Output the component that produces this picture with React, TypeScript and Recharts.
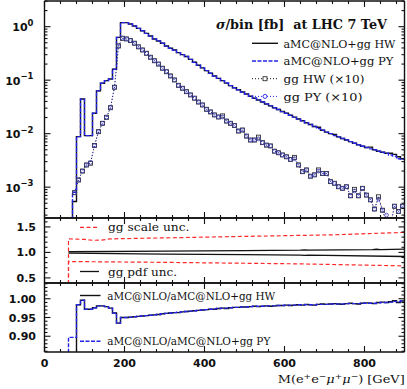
import React from 'react';
import { LineChart, Line, XAxis, YAxis } from 'recharts';

// ---------------- data ----------------
const binLow = [70, 80, 90, 100, 110, 120, 130, 140, 150, 160, 170, 180, 190, 200, 210, 220, 230, 240, 250, 260, 270, 280, 290, 300, 310, 320, 330, 340, 350, 360, 370, 380, 390, 400, 410, 420, 430, 440, 450, 460, 470, 480, 490, 500, 510, 520, 530, 540, 550, 560, 570, 580, 590, 600, 610, 620, 630, 640, 650, 660, 670, 680, 690, 700, 710, 720, 730, 740, 750, 760, 770, 780, 790, 800, 810, 820, 830, 840, 850, 860, 870, 880, 890];
const binMid = [75, 85, 95, 105, 115, 125, 135, 145, 155, 165, 175, 185, 195, 205, 215, 225, 235, 245, 255, 265, 275, 285, 295, 305, 315, 325, 335, 345, 355, 365, 375, 385, 395, 405, 415, 425, 435, 445, 455, 465, 475, 485, 495, 505, 515, 525, 535, 545, 555, 565, 575, 585, 595, 605, 615, 625, 635, 645, 655, 665, 675, 685, 695, 705, 715, 725, 735, 745, 755, 765, 775, 785, 795, 805, 815, 825, 835, 845, 855, 865, 875, 885, 895];

// aMC@NLO+gg HW  (sigma/bin [fb])
const hwMain = [0.00054, 0.0088, 0.0445, 0.0092, 0.0092, 0.024, 0.063, 0.0875, 0.098, 0.105, 0.16, 0.63, 1.19, 1.19, 1.12, 1.03, 0.93, 0.84, 0.75, 0.67, 0.59, 0.54, 0.49, 0.435, 0.395, 0.367, 0.327, 0.30, 0.277, 0.245, 0.216, 0.19, 0.17, 0.151, 0.135, 0.12, 0.108, 0.098, 0.088, 0.079, 0.072, 0.066, 0.060, 0.055, 0.050, 0.046, 0.0427, 0.039, 0.0359, 0.0331, 0.0305, 0.0282, 0.026, 0.024, 0.0221, 0.0204, 0.0188, 0.0174, 0.016, 0.0148, 0.0136, 0.0132, 0.0116, 0.0107, 0.0100, 0.0097, 0.0087, 0.0081, 0.0076, 0.0071, 0.0066, 0.0062, 0.0058, 0.0055, 0.0056, 0.0050, 0.0047, 0.0045, 0.0043, 0.0043, 0.0041, 0.0037, 0.0034];
// aMC@NLO+gg PY
const pyMain = [0.0008, 0.0088, 0.0445, 0.0092, 0.0092, 0.024, 0.063, 0.0875, 0.098, 0.105, 0.16, 0.63, 1.19, 1.19, 1.12, 1.03, 0.93, 0.84, 0.75, 0.67, 0.59, 0.54, 0.49, 0.435, 0.395, 0.367, 0.327, 0.30, 0.277, 0.245, 0.216, 0.19, 0.17, 0.151, 0.135, 0.12, 0.108, 0.098, 0.0885, 0.079, 0.072, 0.066, 0.060, 0.055, 0.050, 0.046, 0.0427, 0.039, 0.0359, 0.0331, 0.0305, 0.0282, 0.0258, 0.024, 0.0221, 0.0204, 0.0188, 0.0174, 0.016, 0.0148, 0.0136, 0.0125, 0.0116, 0.0107, 0.0100, 0.0092, 0.0087, 0.0081, 0.0076, 0.0071, 0.0066, 0.0062, 0.0058, 0.0055, 0.0052, 0.0050, 0.0047, 0.0045, 0.0043, 0.0040, 0.0038, 0.0034, 0.0033];
// gg HW (x10)
const ggHW10 = [0.00079, 0.00136, 0.0020, 0.0026, 0.0028, 0.0060, 0.0109, 0.0156, 0.0202, 0.0306, 0.0736, 0.436, 0.607, 0.59, 0.55, 0.49, 0.42, 0.367, 0.318, 0.268, 0.231, 0.200, 0.167, 0.144, 0.120, 0.101, 0.080, 0.0705, 0.061, 0.053, 0.046, 0.039, 0.0344, 0.0285, 0.0255, 0.0224, 0.0205, 0.0215, 0.0172, 0.0156, 0.0142, 0.0112, 0.0117, 0.0090, 0.0076, 0.0076, 0.0086, 0.0068, 0.0061, 0.0059, 0.0047, 0.0044, 0.0040, 0.0037, 0.0033, 0.0036, 0.0026, 0.00195, 0.0021, 0.0016, 0.0017, 0.0021, 0.0018, 0.0018, 0.00127, 0.00118, 0.00102, 0.00095, 0.00102, 0.00069, 0.00091, 0.00069, 0.00095, 0.00071, 0.00058, 0.00039, 0.00066, 0.00037, 0.0002, 0.0002, 0.00044, 0.00035, 0.00044];
// gg PY (x10)
const ggPY10 = [0.00079, 0.00136, 0.0020, 0.0026, 0.0029, 0.0060, 0.0109, 0.0156, 0.0202, 0.0306, 0.0736, 0.436, 0.607, 0.59, 0.55, 0.49, 0.42, 0.367, 0.318, 0.268, 0.231, 0.200, 0.167, 0.144, 0.120, 0.101, 0.080, 0.0705, 0.061, 0.053, 0.046, 0.039, 0.0344, 0.0285, 0.0255, 0.0224, 0.0205, 0.0205, 0.0172, 0.0156, 0.0142, 0.0112, 0.0117, 0.0090, 0.0076, 0.0076, 0.0080, 0.0068, 0.0061, 0.0059, 0.0047, 0.0044, 0.0040, 0.0037, 0.0033, 0.0034, 0.0026, 0.00195, 0.0021, 0.0016, 0.0017, 0.0020, 0.0018, 0.0018, 0.00127, 0.00118, 0.00102, 0.00095, 0.00102, 0.00069, 0.00085, 0.00069, 0.00095, 0.00071, 0.00058, 0.00039, 0.0006, 0.00037, 0.0003, 0.0002, 0.00044, 0.00035, 0.00044];

// gg scale / pdf uncertainty bands (ratio)
const scaleUpX = [60, 100, 120, 140, 165, 300, 470, 720, 900];
const scaleUpV = [1.266, 1.255, 1.238, 1.24, 1.266, 1.285, 1.31, 1.345, 1.393];
const scaleDnX = [60, 300, 640, 900];
const scaleDnV = [0.821, 0.805, 0.775, 0.736];
const pdfUpX = [60, 300, 500, 640, 650, 660, 820, 830, 840, 900];
const pdfUpV = [1.013, 1.025, 1.037, 1.045, 1.05, 1.045, 1.055, 1.062, 1.055, 1.063];
const pdfDnX = [60, 300, 500, 640, 650, 660, 900];
const pdfDnV = [0.985, 0.968, 0.955, 0.945, 0.94, 0.945, 0.92];

// aMC@NLO / aMC@NLO+gg
const ratioBinsHW = [80, 90, 100, 110, 120, 130, 140, 150, 160, 170, 180, 190, 200, 210, 220, 230, 240, 250, 260, 270, 280, 290, 300, 310, 320, 330, 340, 350, 360, 370, 380, 390, 400, 410, 420, 430, 440, 450, 460, 470, 480, 490, 500, 510, 520, 530, 540, 550, 560, 570, 580, 590, 600, 610, 620, 630, 640, 650, 660, 670, 680, 690, 700, 710, 720, 730, 740, 750, 760, 770, 780, 790, 800, 810, 820, 830, 840, 850, 860, 870, 880, 890];
const ratioHW = [0.984, 0.996, 0.972, 0.972, 0.976, 0.981, 0.981, 0.979, 0.975, 0.962, 0.935, 0.950,
  0.950, 0.951, 0.952, 0.953, 0.954, 0.955, 0.956, 0.957, 0.958, 0.960,
  0.961, 0.962, 0.963, 0.963, 0.965, 0.966, 0.967, 0.968, 0.969, 0.970,
  0.971, 0.972, 0.972, 0.974, 0.975, 0.974, 0.976, 0.977, 0.977, 0.978,
  0.978, 0.979, 0.980, 0.979, 0.980, 0.981, 0.980, 0.981, 0.982, 0.982,
  0.983, 0.982, 0.983, 0.984, 0.983, 0.985, 0.984, 0.983, 0.985, 0.986,
  0.985, 0.986, 0.987, 0.986, 0.985, 0.987, 0.988, 0.987, 0.986, 0.988,
  0.989, 0.988, 0.987, 0.990, 0.991, 0.990, 0.992, 0.995, 0.990, 0.994];
const ratioBinsPY = [60, 70, 80, 90, 100, 110, 120, 130, 140, 150, 160, 170, 180, 190, 200, 210, 220, 230, 240, 250, 260, 270, 280, 290, 300, 310, 320, 330, 340, 350, 360, 370, 380, 390, 400, 410, 420, 430, 440, 450, 460, 470, 480, 490, 500, 510, 520, 530, 540, 550, 560, 570, 580, 590, 600, 610, 620, 630, 640, 650, 660, 670, 680, 690, 700, 710, 720, 730, 740, 750, 760, 770, 780, 790, 800, 810, 820, 830, 840, 850, 860, 870, 880, 890];
const ratioPY = [0.897, 0.897, 0.984, 0.996, 0.972, 0.972, 0.976, 0.981, 0.981, 0.979, 0.975, 0.962, 0.935, 0.950,
  0.950, 0.951, 0.952, 0.953, 0.954, 0.955, 0.956, 0.957, 0.958, 0.960,
  0.961, 0.962, 0.963, 0.964, 0.965, 0.966, 0.967, 0.968, 0.969, 0.970,
  0.971, 0.972, 0.973, 0.974, 0.975, 0.975, 0.976, 0.977, 0.977, 0.978,
  0.978, 0.979, 0.980, 0.980, 0.980, 0.981, 0.981, 0.981, 0.982, 0.982,
  0.983, 0.983, 0.983, 0.984, 0.984, 0.984, 0.984, 0.984, 0.985, 0.985,
  0.985, 0.986, 0.986, 0.986, 0.986, 0.987, 0.987, 0.987, 0.987, 0.988,
  0.988, 0.988, 0.988, 0.989, 0.990, 0.990, 0.991, 0.993, 0.992, 0.994];

// ticks
const xTicks = [0, 40, 80, 120, 160, 200, 240, 280, 320, 360, 400, 440, 480, 520, 560, 600, 640, 680, 720, 760, 800, 840, 880];
const xMajor = [0, 200, 400, 600, 800];
const mainYTicks = [0.0003, 0.0004, 0.0005, 0.0006, 0.0007, 0.0008, 0.0009, 0.001, 0.002, 0.003, 0.004, 0.005, 0.006, 0.007, 0.008, 0.009, 0.01, 0.02, 0.03, 0.04, 0.05, 0.06, 0.07, 0.08, 0.09, 0.1, 0.2, 0.3, 0.4, 0.5, 0.6, 0.7, 0.8, 0.9, 1, 2, 3];
const mainYMajor = [0.001, 0.01, 0.1, 1];
const mainYExp = ['−3', '−2', '−1', '0'];
const midYTicks = [0.5, 0.6, 0.7, 0.8, 0.9, 1.0, 1.1, 1.2, 1.3, 1.4, 1.5, 1.6];
const midYMajor = [0.5, 1.0, 1.5];
const midYLabels = ['0.5', '1.0', '1.5'];
const lowYTicks = [0.86, 0.87, 0.88, 0.89, 0.90, 0.91, 0.92, 0.93, 0.94, 0.95, 0.96, 0.97, 0.98, 0.99, 1.00, 1.01, 1.02, 1.03, 1.04];
const lowYMajor = [0.90, 0.95, 1.00];
const lowYLabels = ['0.90', '0.95', '1.00'];

// ---------------- layout / style ----------------
const W = 407;
const H = 389;
const PL = 44.5;
const PR = 404.5;
const MAIN = { top: 1, bot: 218 };
const MID = { top: 218, bot: 283 };
const LOW = { top: 283, bot: 352 };
const AX = 1; // axis box thickness (needed so axes render)
const BLACK = '#111';
const BLUE = '#2424e6';
const RED = '#ff2a2a';
const SANS = "'DejaVu Sans', sans-serif";
const SERIF = "'DejaVu Serif', serif";

const idx = (arr: number[], v: number) => arr.findIndex((a) => Math.abs(a - v) / Math.abs(a || 1) < 1e-6);

const stepData = (edges: number[], vals: number[], start: number, floor: number, end: number) => {
  const d: { x: number; v: number }[] = [{ x: start, v: floor }];
  edges.forEach((e, i) => d.push({ x: e, v: vals[i] }));
  d.push({ x: end, v: vals[vals.length - 1] });
  return d;
};
const ptData = (xs: number[], vs: number[]) => xs.map((x, i) => ({ x, v: vs[i] }));

const hwMainData = stepData(binLow, hwMain, 60, 1e-6, 900);
const pyMainData = stepData(binLow, pyMain, 60, 1e-6, 900);
const ggHWData = ptData(binMid, ggHW10);
const ggPYData = ptData(binMid, ggPY10);
const scaleUpData = [{ x: 60, v: 0 }, ...ptData(scaleUpX, scaleUpV)];
const scaleDnData = [{ x: 60, v: 0 }, ...ptData(scaleDnX, scaleDnV)];
const pdfUpData = ptData(pdfUpX, pdfUpV);
const pdfDnData = ptData(pdfDnX, pdfDnV);
const ratioHWData = stepData(ratioBinsHW, ratioHW, 70, 0.5, 900);
const ratioPYData = stepData(ratioBinsPY, ratioPY, 50, 0.5, 900);

// ---------------- tick renderers ----------------
const makeXTick = (edgeY: number, dir: number, withLabel: boolean) => (p: any) => {
  const v = p.payload.value;
  const x = p.x;
  const major = xMajor.includes(v);
  const len = major ? 6 : 3;
  return (
    <g>
      <line x1={x} x2={x} y1={edgeY} y2={edgeY + dir * len} stroke={BLACK} strokeWidth={1.1} />
      {withLabel && major ? (
        <text x={x} y={367} textAnchor="middle" fontFamily={SANS} fontWeight="bold" fontSize={11} fill={BLACK}>
          {v}
        </text>
      ) : null}
    </g>
  );
};

const makeYTick = (side: 'left' | 'right', majors: number[], labels: string[] | null, kind: 'lin' | 'log') => (p: any) => {
  const v = p.payload.value;
  const y = p.y;
  const k = idx(majors, v);
  const major = k >= 0;
  const len = major ? 6 : 3;
  const x0 = side === 'left' ? PL : PR;
  const x1 = side === 'left' ? x0 + len : x0 - len;
  let label: React.ReactNode = null;
  if (labels && major) {
    if (kind === 'log') {
      label = (
        <text x={33.5} y={y + 4.5} textAnchor="end" fontFamily={SANS} fontWeight="bold" fontSize={11} fill={BLACK}>
          10
          <tspan dy={-5.5} fontSize={8.5}>{labels[k]}</tspan>
        </text>
      );
    } else {
      label = (
        <text x={36} y={y + 4} textAnchor="end" fontFamily={SANS} fontWeight="bold" fontSize={11} fill={BLACK}>
          {labels[k]}
        </text>
      );
    }
  }
  return (
    <g>
      <line x1={x0} x2={x1} y1={y} y2={y} stroke={BLACK} strokeWidth={1.1} />
      {label}
    </g>
  );
};

const frameLine = { stroke: BLACK, strokeWidth: 1.4 };

const Panel = ({ top, bot, yProps, yMajors, yLabels, kind, xLabels, children }: any) => (
  <div style={{ position: 'absolute', left: 0, top: 0 }}>
    <LineChart width={W} height={H}
      margin={{ top: top - AX, bottom: H - bot - AX, left: PL - AX, right: W - PR - AX }}>
      <XAxis xAxisId="b" type="number" dataKey="x" domain={[0, 900]} ticks={xTicks} interval={0} allowDataOverflow
        orientation="bottom" height={AX} tickLine={false} axisLine={frameLine} tick={makeXTick(bot, -1, xLabels)} />
      <XAxis xAxisId="t" type="number" dataKey="x" domain={[0, 900]} ticks={xTicks} interval={0} allowDataOverflow
        orientation="top" height={AX} tickLine={false} axisLine={frameLine} tick={makeXTick(top, 1, false)} />
      <YAxis yAxisId="l" type="number" orientation="left" width={AX} {...yProps} interval={0} allowDataOverflow
        tickLine={false} axisLine={frameLine} tick={makeYTick('left', yMajors, yLabels, kind)} />
      <YAxis yAxisId="r" type="number" orientation="right" width={AX} {...yProps} interval={0} allowDataOverflow
        tickLine={false} axisLine={frameLine} tick={makeYTick('right', yMajors, null, kind)} />
      {children}
    </LineChart>
  </div>
);

const Square = (p: any) => {
  if (p.cx == null || p.cy == null || isNaN(p.cy)) return <g key={p.index} />;
  return <rect key={p.index} x={p.cx - 2} y={p.cy - 2} width={4} height={4} fill="none" stroke="#333" strokeWidth={0.9} />;
};
const Circle = (p: any) => {
  if (p.cx == null || p.cy == null || isNaN(p.cy)) return <g key={p.index} />;
  return <circle key={p.index} cx={p.cx} cy={p.cy} r={1.9} fill="none" stroke="#3a3ab8" strokeWidth={0.8} />;
};

const common = { xAxisId: 'b', yAxisId: 'l', dataKey: 'v', isAnimationActive: false } as const;

export default function App() {
  return (
    <div style={{ position: 'absolute', left: 0, top: 0, width: W, height: H, background: '#fff' }}>
      {/* main panel */}
      <Panel top={MAIN.top} bot={MAIN.bot} kind="log" xLabels={false}
        yProps={{ scale: 'log', domain: [0.000265, 3.02], ticks: mainYTicks }}
        yMajors={mainYMajor} yLabels={mainYExp}>
        <Line {...common} data={hwMainData} type="stepAfter" stroke={BLACK} strokeWidth={1.4} dot={false} />
        <Line {...common} data={pyMainData} type="stepAfter" stroke={BLUE} strokeWidth={1.4} strokeDasharray="4 1.5" dot={false} />
        <Line {...common} data={ggHWData} type="linear" stroke={BLACK} strokeWidth={1} strokeDasharray="1 2" dot={Square} />
        <Line {...common} data={ggPYData} type="linear" stroke={BLUE} strokeWidth={0.8} strokeDasharray="1 2" dot={Circle} />
      </Panel>
      {/* middle panel */}
      <Panel top={MID.top} bot={MID.bot} kind="lin" xLabels={false}
        yProps={{ domain: [0.4, 1.675], ticks: midYTicks }}
        yMajors={midYMajor} yLabels={midYLabels}>
        <Line {...common} data={pdfUpData} type="linear" stroke={BLACK} strokeWidth={1.3} dot={false} />
        <Line {...common} data={pdfDnData} type="linear" stroke={BLACK} strokeWidth={1.3} dot={false} />
        <Line {...common} data={scaleUpData} type="linear" stroke={RED} strokeWidth={1.2} strokeDasharray="4 2.5" dot={false} />
        <Line {...common} data={scaleDnData} type="linear" stroke={RED} strokeWidth={1.2} strokeDasharray="4 2.5" dot={false} />
      </Panel>
      {/* bottom panel */}
      <Panel top={LOW.top} bot={LOW.bot} kind="lin" xLabels={true}
        yProps={{ domain: [0.858, 1.042], ticks: lowYTicks }}
        yMajors={lowYMajor} yLabels={lowYLabels}>
        <Line {...common} data={ratioHWData} type="stepAfter" stroke={BLACK} strokeWidth={1.4} dot={false} />
        <Line {...common} data={ratioPYData} type="stepAfter" stroke={BLUE} strokeWidth={1.4} strokeDasharray="4 1.5" dot={false} />
      </Panel>

      {/* annotations & legends */}
      <svg width={W} height={H} style={{ position: 'absolute', left: 0, top: 0, pointerEvents: 'none' }}>
        <text x={216} y={28.5} fontFamily={SERIF} fontSize={12} fontWeight="bold" fill={BLACK} textLength={171} lengthAdjust="spacingAndGlyphs">
          <tspan fontStyle="italic">σ</tspan>/bin [fb]{'\u00a0\u00a0'}at LHC 7 TeV
        </text>

        <line x1={252} x2={278} y1={43.3} y2={43.3} stroke={BLACK} strokeWidth={1.4} />
        <text x={283.5} y={47.5} fontFamily={SERIF} fontSize={11.5} fill={BLACK} textLength={112} lengthAdjust="spacingAndGlyphs">aMC@NLO+gg HW</text>

        <line x1={252} x2={278} y1={61} y2={61} stroke={BLUE} strokeWidth={1.4} strokeDasharray="4 1.5" />
        <text x={283.5} y={65.2} fontFamily={SERIF} fontSize={11.5} fill={BLACK} textLength={110} lengthAdjust="spacingAndGlyphs">aMC@NLO+gg PY</text>

        <line x1={252} x2={278} y1={78.7} y2={78.7} stroke={BLACK} strokeWidth={1} strokeDasharray="1 2" />
        <rect x={263} y={76.7} width={4} height={4} fill="#fff" stroke="#333" strokeWidth={0.9} />
        <text x={283.5} y={82.9} fontFamily={SERIF} fontSize={11.5} fill={BLACK} textLength={81} lengthAdjust="spacingAndGlyphs">gg HW (×10)</text>

        <line x1={252} x2={278} y1={96.4} y2={96.4} stroke={BLUE} strokeWidth={1} strokeDasharray="1 2" />
        <circle cx={265} cy={96.4} r={2} fill="#fff" stroke={BLUE} strokeWidth={0.9} />
        <text x={283.5} y={100.6} fontFamily={SERIF} fontSize={11.5} fill={BLACK} textLength={79} lengthAdjust="spacingAndGlyphs">gg PY (×10)</text>

        <line x1={80} x2={99} y1={227.3} y2={227.3} stroke={RED} strokeWidth={1.2} strokeDasharray="4 2.5" />
        <text x={108} y={231.3} fontFamily={SERIF} fontSize={11.5} fill={BLACK} textLength={81.5} lengthAdjust="spacingAndGlyphs">gg scale unc.</text>

        <line x1={80} x2={99} y1={271.5} y2={271.5} stroke={BLACK} strokeWidth={1.3} />
        <text x={108} y={275.5} fontFamily={SERIF} fontSize={11.5} fill={BLACK} textLength={69} lengthAdjust="spacingAndGlyphs">gg pdf unc.</text>

        <line x1={80} x2={100.5} y1={295.5} y2={295.5} stroke={BLACK} strokeWidth={1.4} />
        <text x={107.3} y={299.6} fontFamily={SERIF} fontSize={11} fill={BLACK} textLength={168} lengthAdjust="spacingAndGlyphs">aMC@NLO/aMC@NLO+gg HW</text>

        <line x1={80} x2={100.5} y1={341.3} y2={341.3} stroke={BLUE} strokeWidth={1.4} strokeDasharray="4 1.5" />
        <text x={107.3} y={345.4} fontFamily={SERIF} fontSize={11} fill={BLACK} textLength={163} lengthAdjust="spacingAndGlyphs">aMC@NLO/aMC@NLO+gg PY</text>

        <text x={277.7} y={383} fontFamily={SERIF} fontSize={11.5} fill={BLACK} textLength={127} lengthAdjust="spacingAndGlyphs">
          M(e<tspan dy={-4.5} fontSize={8}>+</tspan><tspan dy={4.5}>e</tspan><tspan dy={-4.5} fontSize={8}>−</tspan><tspan dy={4.5} fontStyle="italic">μ</tspan><tspan dy={-4.5} fontSize={8}>+</tspan><tspan dy={4.5} fontStyle="italic">μ</tspan><tspan dy={-4.5} fontSize={8}>−</tspan><tspan dy={4.5}>) [GeV]</tspan>
        </text>
      </svg>
    </div>
  );
}
